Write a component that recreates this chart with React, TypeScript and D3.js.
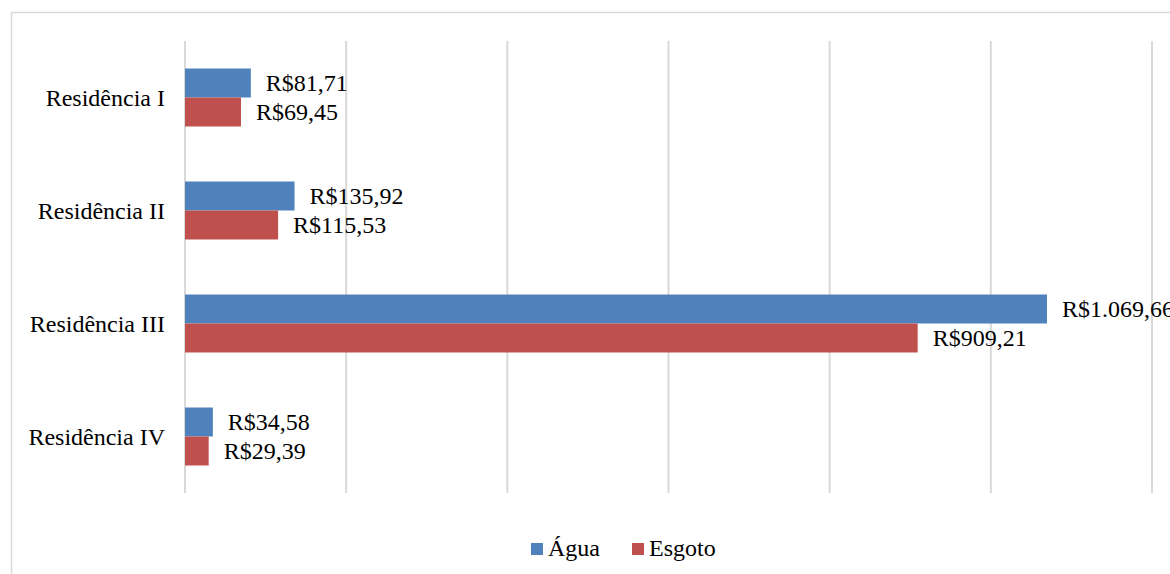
import React from "react";
import * as d3 from "d3";

const categories = ["Residência I", "Residência II", "Residência III", "Residência IV"];
const seriesNames = ["Água", "Esgoto"];
const aguaValues = [81.71, 135.92, 1069.66, 34.58];
const esgotoValues = [69.45, 115.53, 909.21, 29.39];
const aguaLabels = ["R$81,71", "R$135,92", "R$1.069,66", "R$34,58"];
const esgotoLabels = ["R$69,45", "R$115,53", "R$909,21", "R$29,39"];
const xTicks = [0, 200, 400, 600, 800, 1000, 1200];

const colors = ["#4F81BD", "#C0504D"];
const W = 1170;
const H = 574;
const FONT = '"Liberation Serif", "Times New Roman", Times, serif';

export default function App() {
  const x = d3.scaleLinear().domain([0, 1200]).range([185, 1152]);
  const y = d3
    .scaleBand<string>()
    .domain(categories)
    .range([41, 493])
    .paddingInner(0.487)
    .paddingOuter(0.2435);
  const inner = d3.scaleBand<string>().domain(seriesNames).range([0, y.bandwidth()]);
  const seriesVals = [aguaValues, esgotoValues];
  const seriesLabels = [aguaLabels, esgotoLabels];
  const ts = { fontFamily: FONT, fontSize: "24px" };

  return (
    <svg
      width={W}
      height={H}
      style={{ position: "absolute", left: 0, top: 0, background: "#fff", fontFamily: FONT }}
    >
      <rect x={0} y={0} width={W} height={H} fill="#fff" />
      <rect x={11.5} y={12.5} width={1300} height={700} fill="none" stroke="#d9d9d9" strokeWidth={1.5} />
      {xTicks.map((t) => (
        <line key={t} x1={x(t)} x2={x(t)} y1={41} y2={493} stroke="#d9d9d9" strokeWidth={2} />
      ))}
      {categories.map((c, i) => (
        <g key={c}>
          {seriesNames.map((s, k) => {
            const v = seriesVals[k][i];
            const y0 = (y(c) as number) + (inner(s) as number);
            const bh = inner.bandwidth();
            return (
              <g key={s}>
                <rect x={x(0)} y={y0} width={x(v) - x(0)} height={bh} fill={colors[k]} />
                <text x={x(v) + 15} y={y0 + bh / 2 + 8} style={ts} fill="#000">
                  {seriesLabels[k][i]}
                </text>
              </g>
            );
          })}
          <text
            x={165}
            y={(y(c) as number) + y.bandwidth() / 2 + 8}
            style={ts}
            textAnchor="end"
            fill="#000"
          >
            {c}
          </text>
        </g>
      ))}
      {seriesNames.map((s, k) => {
        const lx = [531, 632][k];
        return (
          <g key={s}>
            <rect x={lx} y={543} width={12} height={12} fill={colors[k]} />
            <text x={lx + 17} y={556} style={ts} fill="#000">
              {s}
            </text>
          </g>
        );
      })}
    </svg>
  );
}
